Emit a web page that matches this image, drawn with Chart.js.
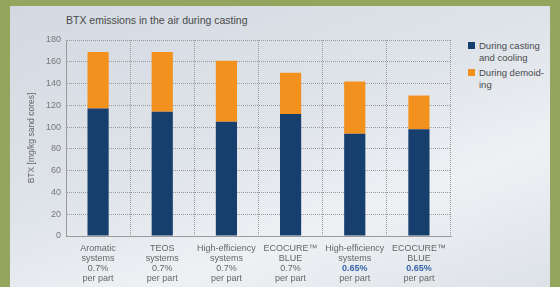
<!DOCTYPE html>
<html>
<head>
<meta charset="utf-8">
<script src="https://cdn.jsdelivr.net/npm/chart.js@4.4.0/dist/chart.umd.min.js"></script>
<style>
  html, body { margin: 0; padding: 0; }
  body { width: 560px; height: 287px; background: #93a65d; position: relative; overflow: hidden; font-family: "Liberation Sans", Arial, sans-serif; }
  #panel { position: absolute; left: 10px; top: 6px; width: 540px; height: 281px;
    background: linear-gradient(160deg, #d3d9e1 0%, #dfe4ea 45%, #eef1f4 70%, #dde2e8 100%); }
  #title { position: absolute; left: 66px; top: 14px; font-size: 10.5px; color: #4a4a4a; }
  #legend { position: absolute; left: 468px; top: 40px; font-size: 9.5px; color: #4a4a4a; line-height: 12px; }
  .item { position: relative; padding-left: 11px; margin-bottom: 3px; }
  .sw { position: absolute; left: 0; top: 2px; width: 7px; height: 7px; }
  canvas { position: absolute; left: 0; top: 0; }
</style>
</head>
<body>
<div id="panel"></div>
<div id="title">BTX emissions in the air during casting</div>
<div id="legend"></div>
<canvas id="chart" width="560" height="287"></canvas>
<script>
  // data
  const categories = [
    ["Aromatic", "systems", "0.7%", "per part"],
    ["TEOS", "systems", "0.7%", "per part"],
    ["High-efficiency", "systems", "0.7%", "per part"],
    ["ECOCURE\u2122", "BLUE", "0.7%", "per part"],
    ["High-efficiency", "systems", "0.65%", "per part"],
    ["ECOCURE\u2122", "BLUE", "0.65%", "per part"]
  ];
  const castingCooling = [117, 114, 105, 112, 94, 98];
  const demolding = [52, 55, 56, 38, 48, 31];
  const yTicks = [0, 20, 40, 60, 80, 100, 120, 140, 160, 180];

  const blue = "#173f6e";
  const orange = "#f2911e";
  const font = "'Liberation Sans', Arial, sans-serif";

  // legend
  const legend = document.getElementById("legend");
  [[blue, "During casting<br>and cooling"], [orange, "During demoid-<br>ing"]].forEach(([c, t]) => {
    const d = document.createElement("div");
    d.className = "item";
    d.innerHTML = `<span class="sw" style="background:${c}"></span>${t}`;
    legend.appendChild(d);
  });

  // multi-line x labels, the 0.65% line is highlighted
  const xLabels = {
    id: "xLabels",
    afterDraw(chart) {
      const ctx = chart.ctx;
      const x = chart.scales.x;
      ctx.save();
      ctx.textAlign = "center";
      ctx.textBaseline = "middle";
      categories.forEach((lines, i) => {
        const cx = x.getPixelForValue(i);
        lines.forEach((line, j) => {
          const hi = line === "0.65%";
          ctx.font = (hi ? "bold " : "") + "9px " + font;
          ctx.fillStyle = hi ? "#3a66a8" : "#666";
          ctx.fillText(line, cx, 249 + j * 10);
        });
      });
      ctx.restore();
    }
  };

  new Chart(document.getElementById("chart"), {
    type: "bar",
    data: {
      labels: categories.map(c => c.join(" ")),
      datasets: [
        { label: "During casting and cooling", data: castingCooling, backgroundColor: blue, categoryPercentage: 1, barPercentage: 0.33 },
        { label: "During demolding", data: demolding, backgroundColor: orange, categoryPercentage: 1, barPercentage: 0.33 }
      ]
    },
    options: {
      responsive: false,
      animation: false,
      layout: { padding: { top: 40, right: 109, left: 0, bottom: 0 } },
      plugins: { legend: { display: false }, tooltip: { enabled: false } },
      scales: {
        x: {
          stacked: true,
          ticks: { display: false },
          grid: { color: "#9a9a9a", drawTicks: false, offset: true, lineWidth: 1 },
          border: { display: true, color: "#9a9a9a", dash: [1, 1] },
          afterFit(s) { s.height = 51; }
        },
        y: {
          stacked: true,
          min: 0,
          max: 180,
          afterBuildTicks(s) { s.ticks = yTicks.map(v => ({ value: v })); },
          ticks: { color: "#777", font: { size: 9, family: font }, padding: 5 },
          grid: { color: "#9a9a9a", drawTicks: false, lineWidth: 1 },
          border: { display: true, color: "#9a9a9a", dash: [1, 1] },
          title: { display: true, text: "BTX [mg/kg sand cores]", color: "#666",
            font: { size: 8.5, family: font }, padding: { top: 27, bottom: 0 } },
          afterFit(s) { s.width = 66; }
        }
      }
    },
    plugins: [xLabels]
  });
</script>
</body>
</html>
